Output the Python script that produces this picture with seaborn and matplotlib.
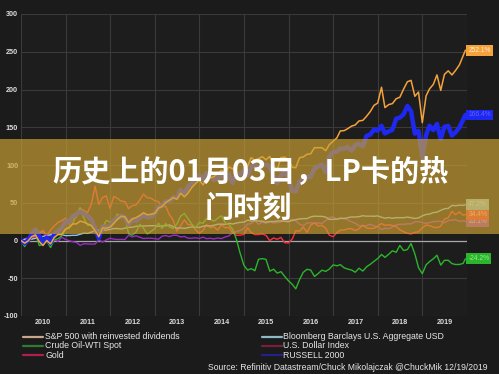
import numpy as np
import pandas as pd
import matplotlib
matplotlib.use("Agg")
import matplotlib.pyplot as plt
import matplotlib.dates as mdates
import matplotlib.transforms as mtransforms
from matplotlib.patches import Rectangle
from matplotlib.lines import Line2D
from matplotlib.ticker import NullFormatter
import seaborn as sns

# ---------------- data (% change since end of 2009, month-end readings) ----------------
series_names = [
    "S&P 500 with reinvested dividends",
    "Crude Oil-WTI Spot",
    "Gold",
    "Bloomberg Barclays U.S. Aggregate USD",
    "U.S. Dollar Index",
    "RUSSELL 2000",
]

sp500 = [0,
    -3.5, -0.6, 5.4, 7.2, -1.5, -6.6, 0.0, -4.6, 3.9, 7.9, 7.9, 15.1,
    17.9, 21.9, 22.0, 25.7, 24.2, 22.1, 19.7, 13.1, 5.1, 16.6, 16.3, 17.5,
    22.8, 28.0, 32.2, 31.5, 23.4, 28.5, 30.3, 33.2, 36.7, 34.1, 34.7, 35.9,
    43.0, 44.9, 50.3, 53.4, 56.8, 54.7, 62.6, 57.8, 62.8, 70.3, 75.4, 79.8,
    73.7, 81.5, 83.0, 84.5, 88.8, 92.6, 90.1, 97.5, 94.8, 99.7, 104.9, 104.4,
    98.4, 109.7, 106.3, 108.5, 111.0, 106.9, 111.4, 98.4, 93.5, 109.9, 110.4, 107.1,
    96.9, 96.4, 109.8, 110.6, 114.2, 114.8, 122.9, 122.9, 123.0, 119.0, 127.0, 131.5,
    136.0, 145.2, 145.5, 148.2, 151.5, 153.1, 158.4, 159.1, 164.4, 170.8, 178.9, 182.1,
    203.0, 176.0, 180.0, 181.3, 187.8, 189.7, 200.6, 210.3, 212.1, 191.0, 196.6, 156.0,
    191.6, 200.8, 206.7, 219.3, 198.8, 220.0, 224.7, 219.3, 225.4, 232.7, 244.5, 252.1]

crude = [0,
    -8.1, 0.4, 5.6, 8.6, -6.8, -4.7, -0.6, -9.4, 0.7, 2.6, 6.0, 15.2,
    16.2, 22.2, 34.5, 43.5, 29.4, 20.2, 20.6, 11.9, -0.2, 17.4, 26.5, 24.5,
    24.1, 35.0, 29.8, 32.2, 9.0, 7.1, 11.0, 21.6, 16.2, 8.6, 12.0, 15.7,
    22.9, 16.1, 22.5, 17.8, 15.9, 21.7, 32.3, 35.7, 28.9, 21.5, 16.8, 24.0,
    22.9, 29.3, 28.0, 25.6, 29.4, 32.8, 23.7, 20.9, 14.9, 1.4, -16.6, -32.8,
    -39.3, -37.2, -40.0, -24.9, -24.0, -25.0, -40.6, -38.0, -43.2, -41.3, -47.5, -53.4,
    -58.0, -64.0, -51.7, -42.2, -38.1, -39.1, -47.6, -43.7, -39.3, -40.9, -37.8, -32.3,
    -33.5, -32.0, -36.2, -37.9, -39.1, -42.0, -36.7, -40.5, -34.9, -31.5, -27.7, -23.9,
    -18.5, -22.4, -18.2, -13.6, -15.6, -6.5, -13.3, -12.0, -4.0, -17.7, -35.9, -44.0,
    -32.2, -27.9, -24.3, -19.5, -32.6, -26.3, -26.2, -30.6, -31.8, -31.7, -30.4, -24.2]

gold = [0,
    -1.5, 2.0, 1.7, 7.6, 10.1, 13.4, 6.6, 13.8, 19.2, 23.9, 26.3, 29.5,
    21.5, 28.5, 31.2, 41.8, 40.0, 36.8, 48.4, 72.0, 47.7, 57.0, 59.2, 42.6,
    58.3, 55.9, 52.1, 51.6, 42.3, 46.2, 47.1, 53.8, 61.5, 56.7, 56.1, 52.7,
    51.7, 43.9, 45.5, 34.2, 27.0, 12.5, 19.7, 27.3, 21.0, 20.6, 14.2, 9.6,
    13.4, 20.9, 17.0, 18.1, 13.9, 21.0, 16.9, 17.3, 10.4, 6.8, 7.1, 7.9,
    17.0, 10.6, 7.8, 7.9, 8.6, 6.8, -0.2, 3.4, 1.6, 4.1, -2.9, -3.3,
    1.9, 12.9, 12.4, 17.8, 10.8, 20.5, 23.2, 19.3, 20.0, 16.4, 6.9, 5.0,
    10.4, 13.9, 13.9, 15.6, 15.6, 13.2, 15.7, 20.4, 16.7, 15.9, 16.2, 18.8,
    22.6, 20.1, 20.8, 19.9, 18.4, 14.2, 11.6, 9.5, 8.7, 10.8, 11.4, 16.8,
    20.4, 19.7, 17.8, 17.0, 19.0, 28.4, 30.1, 38.6, 34.2, 37.9, 33.5, 34.4]

agg_bond = [0,
    1.5, 1.9, 1.8, 2.9, 3.8, 5.4, 6.5, 7.9, 8.0, 8.4, 7.8, 6.5,
    6.6, 6.9, 6.9, 8.3, 9.7, 9.4, 11.1, 12.8, 13.6, 13.8, 13.7, 14.8,
    15.8, 15.8, 15.2, 16.4, 17.4, 17.5, 18.9, 19.0, 19.2, 19.4, 19.6, 19.6,
    18.8, 19.4, 19.5, 20.6, 18.3, 16.4, 16.6, 16.0, 17.0, 17.9, 17.5, 17.2,
    18.9, 19.5, 19.3, 20.2, 21.6, 21.7, 21.4, 22.7, 21.9, 23.1, 24.0, 24.3,
    27.0, 25.8, 26.3, 25.8, 25.5, 24.3, 25.2, 25.0, 25.9, 25.9, 25.5, 24.9,
    26.6, 27.6, 28.6, 29.0, 29.0, 31.3, 32.2, 32.0, 32.0, 31.0, 27.9, 28.1,
    28.4, 29.3, 29.2, 30.2, 31.2, 31.1, 31.6, 32.8, 32.2, 32.3, 32.1, 32.6,
    30.8, 29.5, 30.4, 29.4, 30.3, 30.2, 30.2, 31.0, 30.2, 29.2, 30.0, 32.6,
    34.5, 35.0, 37.0, 37.5, 40.0, 42.0, 42.5, 46.5, 46.0, 46.8, 46.5, 47.2]

usd_index = [0,
    2.1, 3.3, 4.0, 5.1, 11.0, 10.5, 4.9, 6.7, 1.1, -1.1, 4.4, 1.5,
    -0.3, -1.6, -2.5, -6.4, -4.2, -4.6, -4.7, -4.7, 0.9, -2.1, 0.7, 3.0,
    1.8, 1.3, 1.5, 1.3, 6.9, 4.8, 6.2, 4.3, 2.6, 3.0, 3.0, 2.5,
    1.7, 5.6, 6.6, 5.1, 7.0, 6.9, 4.7, 5.4, 3.0, 3.0, 3.6, 2.7,
    4.4, 2.4, 2.9, 2.1, 3.3, 2.5, 4.7, 6.2, 10.5, 11.6, 13.5, 16.0,
    21.8, 22.4, 26.4, 21.5, 24.5, 22.7, 25.0, 23.3, 23.7, 24.5, 28.7, 26.6,
    27.9, 26.1, 21.5, 19.6, 23.2, 23.4, 22.7, 23.3, 22.5, 26.5, 30.4, 31.3,
    27.8, 29.9, 29.0, 27.3, 24.6, 22.8, 19.4, 19.1, 19.6, 21.5, 19.4, 18.3,
    14.4, 16.4, 15.6, 17.9, 20.7, 21.4, 21.4, 22.1, 22.1, 24.7, 25.0, 23.6,
    22.8, 23.6, 25.0, 25.2, 25.6, 23.4, 26.5, 27.0, 27.7, 25.1, 26.3, 25.1]

russell = [0,
    -3.7, 0.4, 8.6, 14.6, 6.0, -2.5, 3.9, -3.7, 8.1, 12.4, 16.2, 25.4,
    24.9, 31.6, 35.0, 38.3, 35.6, 32.4, 27.4, 16.1, 3.0, 18.5, 17.8, 18.5,
    26.8, 29.5, 32.7, 30.6, 21.7, 27.6, 25.7, 29.8, 33.8, 30.8, 31.3, 35.8,
    44.2, 45.7, 52.1, 51.4, 57.3, 56.2, 67.1, 61.7, 71.6, 75.9, 82.8, 86.1,
    80.8, 89.3, 87.6, 80.2, 81.5, 90.8, 79.2, 87.9, 76.2, 87.7, 87.6, 92.7,
    86.3, 97.2, 100.4, 95.1, 99.4, 100.5, 98.0, 85.3, 76.0, 85.8, 91.7, 81.6,
    65.5, 65.3, 78.1, 80.7, 84.5, 84.2, 95.1, 98.3, 100.2, 90.6, 111.4, 117.0,
    117.8, 121.8, 121.5, 123.9, 119.1, 126.3, 127.9, 124.7, 138.4, 140.3, 146.9, 145.4,
    151.8, 141.8, 144.5, 146.6, 161.3, 162.7, 167.2, 178.2, 171.3, 141.6, 145.1, 110.0,
    139.7, 152.0, 146.2, 154.4, 134.4, 150.6, 151.8, 139.0, 143.5, 149.8, 159.8, 166.4]

y_ticks = [-100, -50, 0, 50, 100, 150, 200, 250, 300]
title_line1 = "历史上的01月03日，LP卡的热"
title_line2 = "门时刻"
source_text = "Source: Refinitiv Datastream/Chuck Mikolajczak @ChuckMik 12/19/2019"

# month-end dates from 2009-12-31 to 2019-11-30, plus the last reading 2019-12-19
dates = list(pd.date_range("2010-01-01", periods=120, freq="MS") - pd.Timedelta(days=1))
dates.append(pd.Timestamp("2019-12-19"))

# ---------------- styling ----------------
sns.set_theme(style="dark")
plt.rcParams["font.family"] = ["Liberation Sans", "DejaVu Sans"]

BG = "#1b1b1b"
line_colors = {
    "S&P 500 with reinvested dividends": "#f5a23a",
    "Crude Oil-WTI Spot": "#2cb52c",
    "Gold": "#ff2f3c",
    "Bloomberg Barclays U.S. Aggregate USD": "#8cc8e6",
    "U.S. Dollar Index": "#9a2cc4",
    "RUSSELL 2000": "#1e28f0",
}
legend_colors = {
    "S&P 500 with reinvested dividends": "#c8a78a",
    "Crude Oil-WTI Spot": "#2e7d2e",
    "Gold": "#b0204a",
    "Bloomberg Barclays U.S. Aggregate USD": "#8fb8c8",
    "U.S. Dollar Index": "#7a1f3a",
    "RUSSELL 2000": "#22228a",
}
line_widths = {
    "S&P 500 with reinvested dividends": 1.1,
    "Crude Oil-WTI Spot": 1.0,
    "Gold": 1.0,
    "Bloomberg Barclays U.S. Aggregate USD": 1.0,
    "U.S. Dollar Index": 1.0,
    "RUSSELL 2000": 3.2,
}
values = {
    "S&P 500 with reinvested dividends": sp500,
    "Crude Oil-WTI Spot": crude,
    "Gold": gold,
    "Bloomberg Barclays U.S. Aggregate USD": agg_bond,
    "U.S. Dollar Index": usd_index,
    "RUSSELL 2000": russell,
}

frames = []
for name in series_names:
    frames.append(pd.DataFrame({"date": dates, "pct": values[name], "series": name}))
df = pd.concat(frames, ignore_index=True)

fig = plt.figure(figsize=(4.99, 3.74), dpi=100, facecolor=BG)
ax = fig.add_axes([21 / 499, 1 - 316 / 374, (467 - 21) / 499, (316 - 14) / 374])
ax.set_facecolor("#1d1d1d")

draw_order = ["U.S. Dollar Index", "Gold", "Bloomberg Barclays U.S. Aggregate USD",
              "Crude Oil-WTI Spot", "RUSSELL 2000", "S&P 500 with reinvested dividends"]

ax.axhline(0, color="#a8a8a8", lw=0.9, zorder=1.5)
for i, name in enumerate(draw_order):
    sub = df[df["series"] == name]
    sns.lineplot(data=sub, x="date", y="pct", ax=ax, color=line_colors[name],
                 lw=line_widths[name], zorder=2 + i, legend=False)

ax.set_xlim(pd.Timestamp("2010-01-01"), pd.Timestamp("2020-01-01"))
ax.set_ylim(-100, 300)
ax.set_yticks(y_ticks)
ax.set_yticklabels([str(t) for t in y_ticks])
ax.xaxis.set_major_locator(mdates.YearLocator())
ax.xaxis.set_major_formatter(NullFormatter())
ax.xaxis.set_minor_locator(mdates.MonthLocator(bymonth=7, bymonthday=1))
ax.xaxis.set_minor_formatter(mdates.DateFormatter("%Y"))
ax.set_xlabel("")
ax.set_ylabel("")
ax.grid(True, which="major", color="#3a3a3a", lw=0.8)
ax.tick_params(axis="both", which="both", length=0, colors="#dcdcdc")
ax.tick_params(axis="y", labelsize=5.2, pad=2)
ax.tick_params(axis="x", which="minor", labelsize=5.2, pad=2.5)
for lab in ax.get_yticklabels() + ax.get_xticklabels(minor=True):
    lab.set_fontweight("bold")
for s in ax.spines.values():
    s.set_visible(False)

# value boxes at right end
trans = mtransforms.blended_transform_factory(ax.transAxes, ax.transData)
box_text = {
    "S&P 500 with reinvested dividends": "#fff0d8",
    "Crude Oil-WTI Spot": "#8df08d",
    "Gold": "#ffd0d8",
    "Bloomberg Barclays U.S. Aggregate USD": "#eef8ff",
    "U.S. Dollar Index": "#f0d0ff",
    "RUSSELL 2000": "#5a64ff",
}
for name in draw_order:
    v = values[name][-1]
    ax.text(1.003, v, f"{v:.1f}%", transform=trans, ha="left", va="center",
            fontsize=4.8, color=box_text[name], clip_on=False, zorder=20,
            bbox=dict(boxstyle="square,pad=0.28", fc=line_colors[name], ec="none"))

# legend (two columns, three rows)
left_names = series_names[:3]
right_names = series_names[3:]
rows_y = [336.7, 346.0, 355.2]
for col_names, x0, x1, xt in [(left_names, 22.7, 42.7, 45.0), (right_names, 261.7, 281.7, 283.3)]:
    for name, yy in zip(col_names, rows_y):
        fy = 1 - yy / 374
        fig.add_artist(Line2D([x0 / 499, x1 / 499], [fy, fy], color=legend_colors[name], lw=1.6))
        fig.text(xt / 499, fy, name, fontsize=6.3, color="#e6e6e6", ha="left", va="center")

fig.text(487 / 499, 1 - 367 / 374, source_text, fontsize=6.2, color="#e6e6e6",
         ha="right", va="center")

# translucent golden title banner
fig.patches.append(Rectangle((0, 1 - 234.5 / 374), 1, (234.5 - 139) / 374,
                             transform=fig.transFigure, facecolor=(0.80, 0.635, 0.20),
                             alpha=0.68, edgecolor="none", zorder=8))
cjk = ["Noto Sans CJK SC", "DejaVu Sans"]
fig.text(250 / 499, 1 - 172 / 374, title_line1, family=cjk, fontsize=21, fontweight="bold",
         color="white", ha="center", va="center", zorder=10)
fig.text(248 / 499, 1 - 208 / 374, title_line2, family=cjk, fontsize=21, fontweight="bold",
         color="white", ha="center", va="center", zorder=10)

fig.savefig("out.png", dpi=100, facecolor=BG)
